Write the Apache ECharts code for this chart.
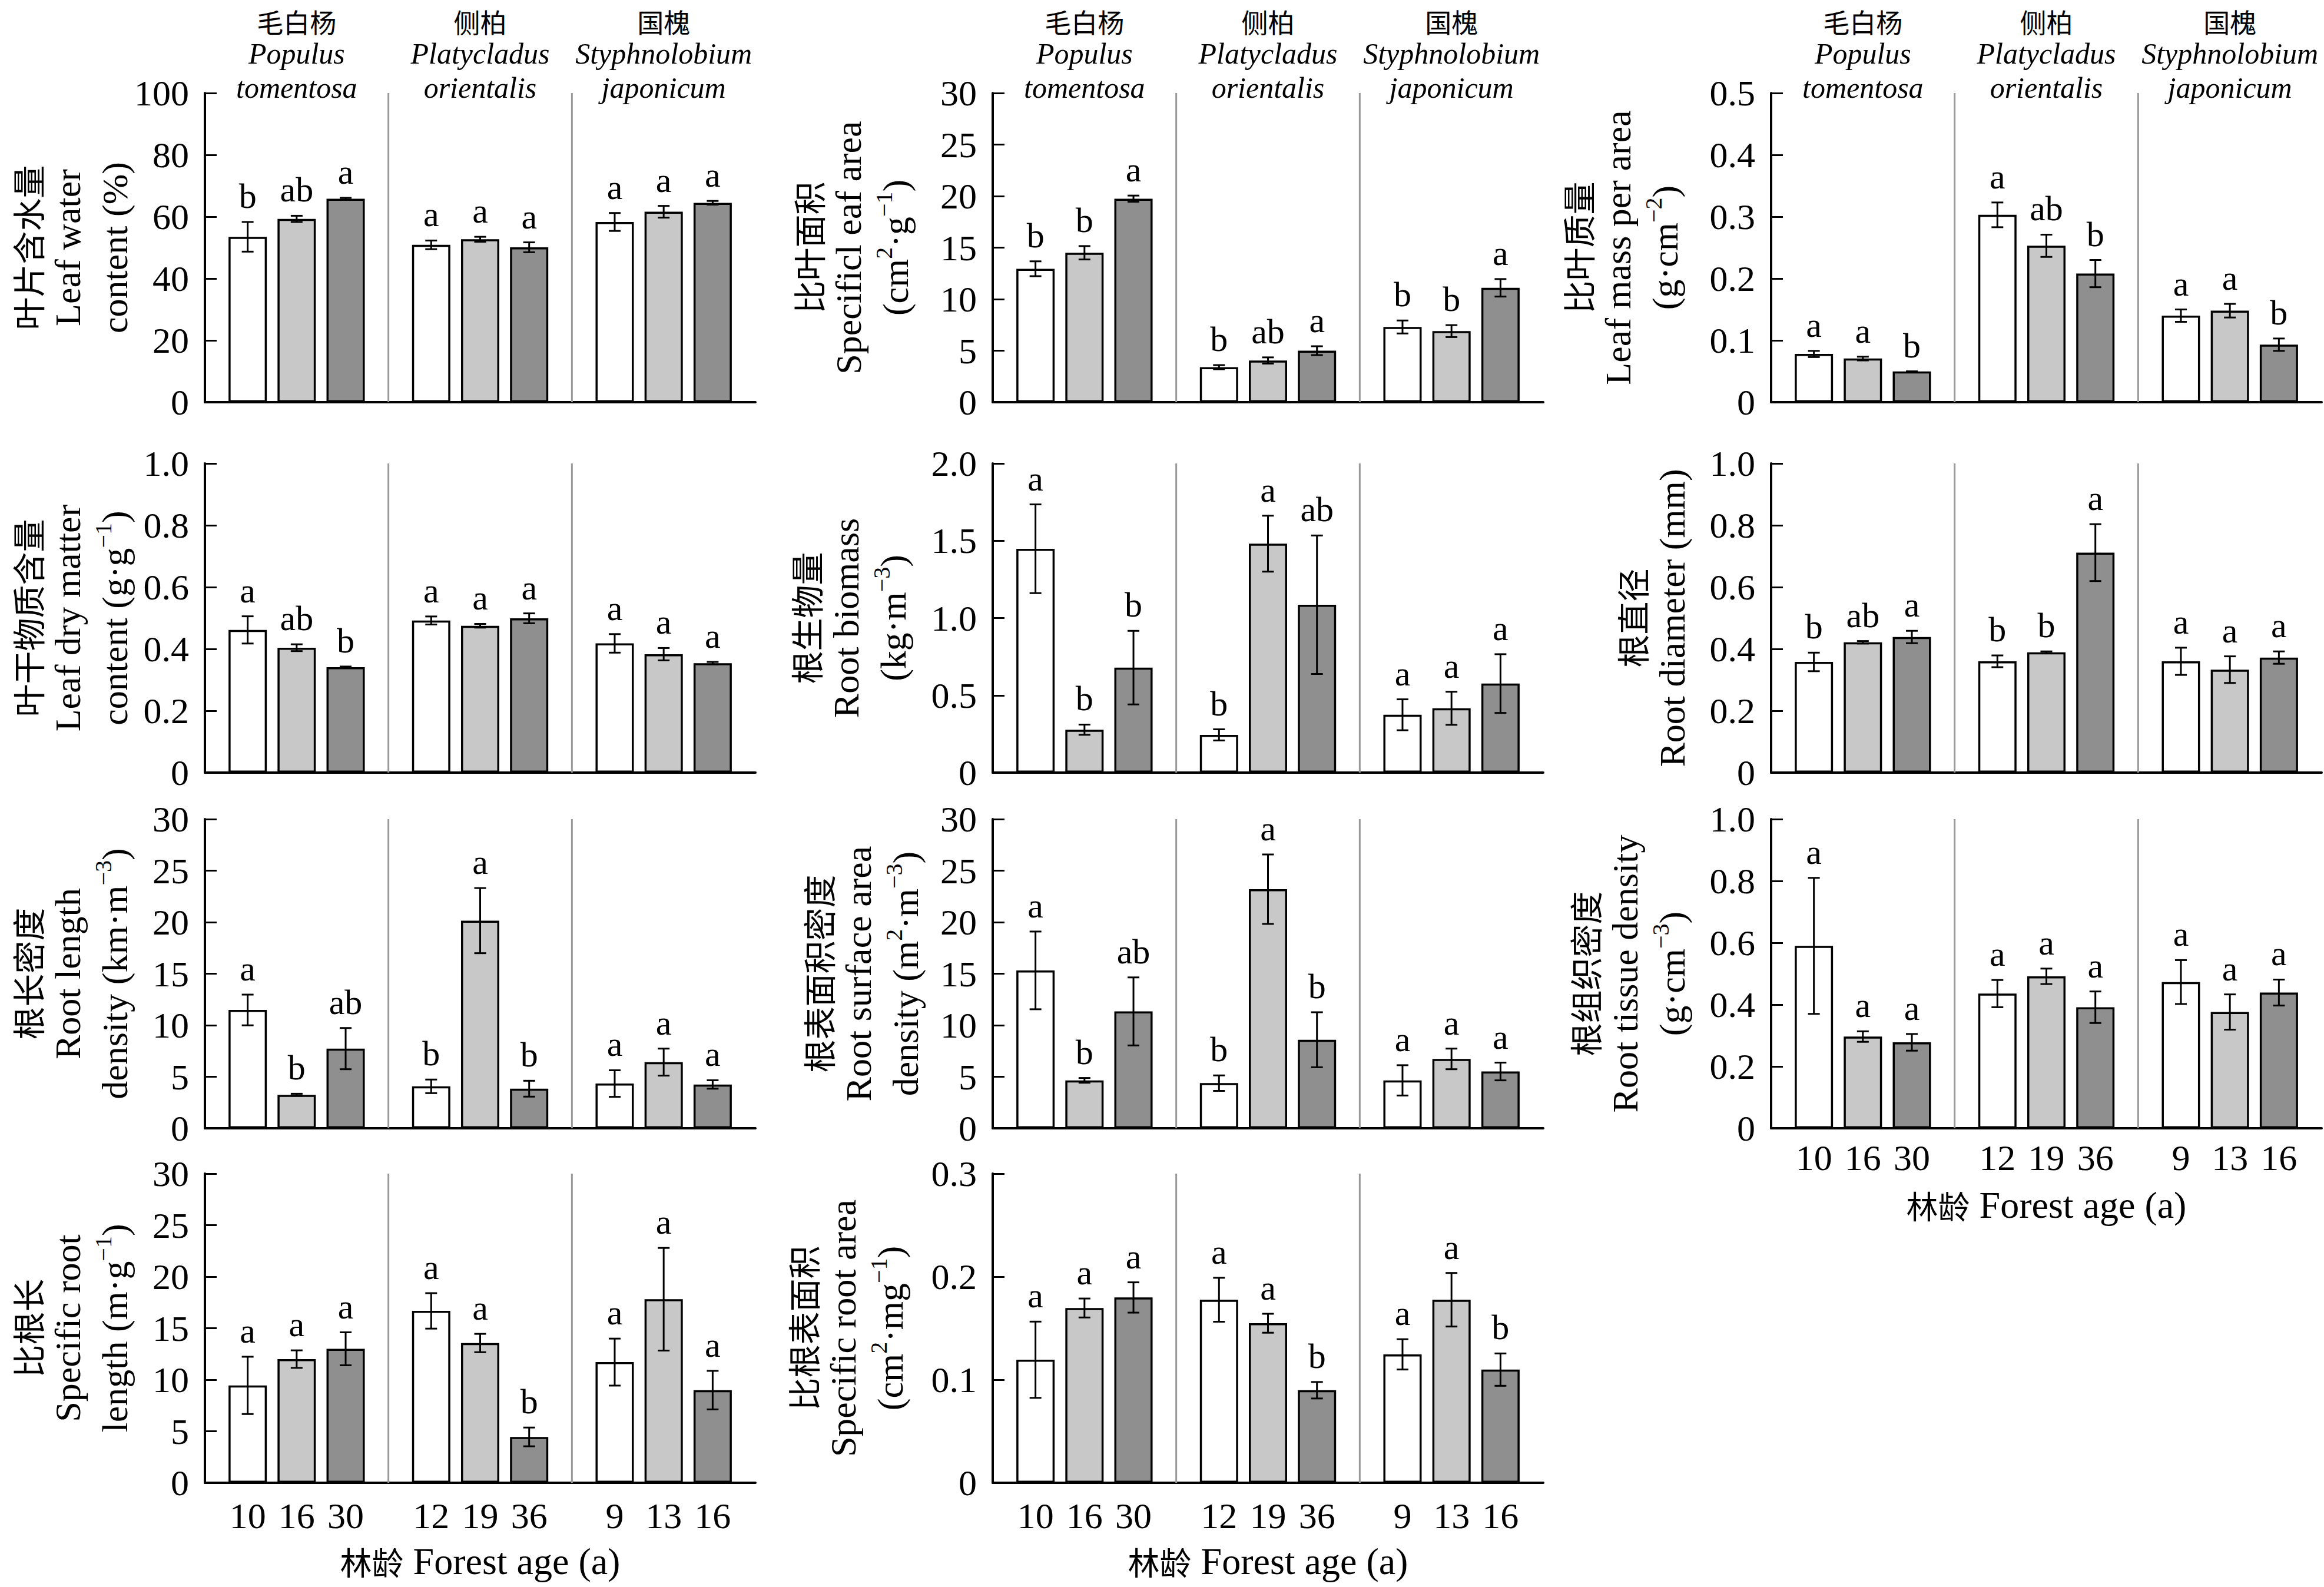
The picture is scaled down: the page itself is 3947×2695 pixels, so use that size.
<!DOCTYPE html>
<html>
<head>
<meta charset="utf-8">
<script src="https://cdn.jsdelivr.net/npm/echarts@6/dist/echarts.min.js"></script>
<style>
html,body{margin:0;padding:0;background:#fff;}
#chart{width:3947px;height:2695px;}
</style>
</head>
<body>
<div id="chart"></div>
<script>
// ---------- categories ----------
const speciesCN = ['毛白杨', '侧柏', '国槐'];
const speciesLatin = [['Populus', 'tomentosa'], ['Platycladus', 'orientalis'], ['Styphnolobium', 'japonicum']];
const forestAges = [['10', '16', '30'], ['12', '19', '36'], ['9', '13', '16']];

// ---------- tick labels ----------
const ticks100 = ['0', '20', '40', '60', '80', '100'];
const ticks30 = ['0', '5', '10', '15', '20', '25', '30'];
const ticks05 = ['0', '0.1', '0.2', '0.3', '0.4', '0.5'];
const ticks10 = ['0', '0.2', '0.4', '0.6', '0.8', '1.0'];
const ticks20 = ['0', '0.5', '1.0', '1.5', '2.0'];
const ticks03 = ['0', '0.1', '0.2', '0.3'];

// ---------- values [species][age] ----------
const leafWaterMean = [[53.5, 59.3, 65.8], [50.9, 52.7, 50.1], [58.3, 61.6, 64.5]];
const leafWaterSE = [[4.8, 1.0, 0.3], [1.4, 0.8, 1.6], [2.9, 1.9, 0.6]];
const leafWaterSig = [['b', 'ab', 'a'], ['a', 'a', 'a'], ['a', 'a', 'a']];

const slaMean = [[12.95, 14.5, 19.75], [3.4, 4.05, 5.0], [7.3, 6.9, 11.1]];
const slaSE = [[0.72, 0.65, 0.3], [0.2, 0.3, 0.43], [0.63, 0.58, 0.85]];
const slaSig = [['b', 'b', 'a'], ['b', 'ab', 'a'], ['b', 'b', 'a']];

const lmaMean = [[0.078, 0.0706, 0.0497], [0.303, 0.253, 0.208], [0.140, 0.148, 0.093]];
const lmaSE = [[0.005, 0.003, 0.0], [0.02, 0.018, 0.022], [0.01, 0.011, 0.01]];
const lmaSig = [['a', 'a', 'b'], ['a', 'ab', 'b'], ['a', 'a', 'b']];

const ldmcMean = [[0.4615, 0.404, 0.341], [0.492, 0.475, 0.499], [0.418, 0.383, 0.354]];
const ldmcSE = [[0.044, 0.011, 0.002], [0.013, 0.006, 0.016], [0.03, 0.02, 0.004]];
const ldmcSig = [['a', 'ab', 'b'], ['a', 'a', 'a'], ['a', 'a', 'a']];

const biomassMean = [[1.448, 0.2775, 0.679], [0.244, 1.481, 1.086], [0.374, 0.416, 0.576]];
const biomassSE = [[0.287, 0.033, 0.238], [0.036, 0.181, 0.448], [0.1, 0.107, 0.19]];
const biomassSig = [['a', 'b', 'b'], ['b', 'a', 'ab'], ['a', 'a', 'a']];

const diameterMean = [[0.358, 0.4215, 0.4386], [0.36, 0.389, 0.7116], [0.36, 0.333, 0.372]];
const diameterSE = [[0.03, 0.004, 0.02], [0.019, 0.003, 0.092], [0.044, 0.043, 0.02]];
const diameterSig = [['b', 'ab', 'a'], ['b', 'b', 'a'], ['a', 'a', 'a']];

const rldMean = [[11.48, 3.25, 7.73], [4.07, 20.15, 3.84], [4.34, 6.42, 4.25]];
const rldSE = [[1.49, 0.1, 2.0], [0.66, 3.16, 0.77], [1.29, 1.31, 0.41]];
const rldSig = [['a', 'b', 'ab'], ['b', 'a', 'b'], ['a', 'a', 'a']];

const rsadMean = [[15.32, 4.65, 11.34], [4.38, 23.2, 8.59], [4.65, 6.73, 5.51]];
const rsadSE = [[3.77, 0.23, 3.3], [0.75, 3.37, 2.67], [1.47, 1.0, 0.86]];
const rsadSig = [['a', 'b', 'ab'], ['b', 'a', 'b'], ['a', 'a', 'a']];

const rtdMean = [[0.59, 0.2966, 0.278], [0.4356, 0.4915, 0.3915], [0.473, 0.376, 0.439]];
const rtdSE = [[0.22, 0.017, 0.027], [0.044, 0.025, 0.051], [0.071, 0.057, 0.042]];
const rtdSig = [['a', 'a', 'a'], ['a', 'a', 'a'], ['a', 'a', 'a']];

const srlMean = [[9.45, 12.0, 13.0], [16.68, 13.56, 4.45], [11.71, 17.81, 8.99]];
const srlSE = [[2.78, 0.85, 1.6], [1.72, 0.89, 0.91], [2.28, 4.98, 1.87]];
const srlSig = [['a', 'a', 'a'], ['a', 'a', 'b'], ['a', 'a', 'a']];

const sraMean = [[0.1194, 0.1696, 0.1798], [0.1776, 0.1548, 0.0898], [0.1246, 0.1776, 0.1098]];
const sraSE = [[0.037, 0.0092, 0.0147], [0.0213, 0.0092, 0.008], [0.0147, 0.026, 0.0157]];
const sraSig = [['a', 'a', 'a'], ['a', 'a', 'b'], ['a', 'a', 'b']];

// ---------- titles ----------
const titles = [
  '{cn|叶片含水量}\n{en|Leaf water}\n{en|content (%)}',
  '{cn|比叶面积}\n{en|Specificl eaf area}\n{en|(cm}{sup|2}{en|·g}{sup|−1}{en|)}',
  '{cn|比叶质量}\n{en|Leaf mass per area}\n{en|(g·cm}{sup|−2}{en|)}',
  '{cn|叶干物质含量}\n{en|Leaf dry matter}\n{en|content (g·g}{sup|−1}{en|)}',
  '{cn|根生物量}\n{en|Root biomass}\n{en|(kg·m}{sup|−3}{en|)}',
  '{cn|根直径}\n{en|Root diameter (mm)}',
  '{cn|根长密度}\n{en|Root length}\n{en|density (km·m}{sup|−3}{en|)}',
  '{cn|根表面积密度}\n{en|Root surface area}\n{en|density (m}{sup|2}{en|·m}{sup|−3}{en|)}',
  '{cn|根组织密度}\n{en|Root tissue density}\n{en|(g·cm}{sup|−3}{en|)}',
  '{cn|比根长}\n{en|Specific root}\n{en|length (m·g}{sup|−1}{en|)}',
  '{cn|比根表面积}\n{en|Specific root area}\n{en|(cm}{sup|2}{en|·mg}{sup|−1}{en|)}'
];
const xTitle = '{cn|林龄}{en|\u00A0Forest age (a)}';

// ---------- panel assembly ----------
const panelData = [
  [leafWaterMean, leafWaterSE, leafWaterSig, ticks100],
  [slaMean, slaSE, slaSig, ticks30],
  [lmaMean, lmaSE, lmaSig, ticks05],
  [ldmcMean, ldmcSE, ldmcSig, ticks10],
  [biomassMean, biomassSE, biomassSig, ticks20],
  [diameterMean, diameterSE, diameterSig, ticks10],
  [rldMean, rldSE, rldSig, ticks30],
  [rsadMean, rsadSE, rsadSig, ticks30],
  [rtdMean, rtdSE, rtdSig, ticks10],
  [srlMean, srlSE, srlSig, ticks30],
  [sraMean, sraSE, sraSig, ticks03]
];

// layout (pixels)
const colLeft = [348, 1686, 3008];
const rowTop = [158, 787, 1391, 1993];
const GRID_W = 935, GRID_H = 525;
const panelLayout = [
  {c: 0, r: 0, gap: 113, species: true},
  {c: 1, r: 0, gap: 125, species: true},
  {c: 2, r: 0, gap: 140, species: true},
  {c: 0, r: 1, gap: 113},
  {c: 1, r: 1, gap: 129},
  {c: 2, r: 1, gap: 128},
  {c: 0, r: 2, gap: 113},
  {c: 1, r: 2, gap: 108},
  {c: 2, r: 2, gap: 128, ages: true, ageGap: 50, titleGap: 95},
  {c: 0, r: 3, gap: 113, ages: true, ageGap: 56, titleGap: 98},
  {c: 1, r: 3, gap: 134, ages: true, ageGap: 56, titleGap: 98}
];

const FILLS = ['#ffffff', '#c8c8c8', '#8f8f8f'];
const BAR_W = 65, BAR_GAP = 0.28;
const PITCH = BAR_W * (1 + BAR_GAP);
const SERIF = '"Liberation Serif", "Times New Roman", serif';
const CJK = '"Noto Sans CJK SC", sans-serif';

const nameRich = {
  cn: {fontFamily: CJK, fontSize: 56, lineHeight: 60, color: '#000'},
  en: {fontFamily: SERIF, fontSize: 62, lineHeight: 80, color: '#000'},
  sup: {fontFamily: SERIF, fontSize: 40, lineHeight: 48, verticalAlign: 'top', color: '#000'}
};

const grids = [], xAxes = [], yAxes = [], series = [];

panelData.forEach((pd, i) => {
  const [mean, se, sig, ticks] = pd;
  const L = panelLayout[i];
  const yMin = parseFloat(ticks[0]);
  const yMax = parseFloat(ticks[ticks.length - 1]);
  const yStep = parseFloat(ticks[1]) - yMin;

  grids.push({left: colLeft[L.c], top: rowTop[L.r], width: GRID_W, height: GRID_H,
    containLabel: false, outerBoundsMode: 'none'});

  const bottomIdx = xAxes.length;
  xAxes.push({
    gridIndex: i, type: 'category', data: speciesCN, position: 'bottom',
    axisLine: {show: true, onZero: false, lineStyle: {color: '#000', width: 4}},
    axisTick: {show: false}, axisLabel: {show: false}, splitLine: {show: false},
    name: L.ages ? xTitle : '', nameLocation: 'middle', nameGap: L.titleGap || 0,
    nameMoveOverlap: false,
    nameTextStyle: {rich: {
      cn: {fontFamily: CJK, fontSize: 54, lineHeight: 70, color: '#000'},
      en: {fontFamily: SERIF, fontSize: 64, lineHeight: 70, color: '#000'}
    }}
  });
  if (L.species) {
    xAxes.push({
      gridIndex: i, type: 'category', data: speciesCN, position: 'top',
      axisLine: {show: false}, axisTick: {show: false}, splitLine: {show: false},
      axisLabel: {
        show: true, interval: 0, margin: -20,
        formatter: (v, idx) => '{cn|' + speciesCN[idx] + '}\n{it|' + speciesLatin[idx][0] + '}\n{it|' + speciesLatin[idx][1] + '}',
        rich: {
          cn: {fontFamily: CJK, fontSize: 45, lineHeight: 52, color: '#000'},
          it: {fontFamily: SERIF, fontStyle: 'italic', fontSize: 50, lineHeight: 58, color: '#000'}
        }
      }
    });
  }

  yAxes.push({
    gridIndex: i, type: 'value', min: yMin, max: yMax, interval: yStep,
    axisLine: {show: true, lineStyle: {color: '#000', width: 4}},
    axisTick: {show: true, inside: true, length: 20, lineStyle: {color: '#000', width: 3}},
    splitLine: {show: false},
    axisLabel: {
      margin: 27, fontSize: 62, fontFamily: SERIF, color: '#000',
      formatter: v => ticks[Math.round((v - yMin) / yStep)]
    },
    name: titles[i], nameLocation: 'middle', nameRotate: 90, nameGap: L.gap,
    nameMoveOverlap: false,
    nameTextStyle: {rich: nameRich}
  });

  for (let k = 0; k < 3; k++) {
    series.push({
      type: 'bar', xAxisIndex: bottomIdx, yAxisIndex: i,
      data: mean.map(g => g[k]),
      barWidth: BAR_W, barGap: (BAR_GAP * 100) + '%',
      itemStyle: {color: FILLS[k], borderColor: '#000', borderWidth: 3.5},
      silent: true, animation: false, z: 2
    });
  }

  const pts = [];
  for (let j = 0; j < 3; j++) for (let k = 0; k < 3; k++) pts.push([j, k]);
  series.push({
    type: 'custom', xAxisIndex: bottomIdx, yAxisIndex: i, data: pts,
    clip: false, silent: true, animation: false, z: 5,
    renderItem: (params, api) => {
      const j = api.value(0), k = api.value(1);
      const m = mean[j][k], s = se[j][k];
      const base = api.coord([j, 0]);
      const x = base[0] + (k - 1) * PITCH;
      const yT = api.coord([j, m + s])[1];
      const yB = api.coord([j, m - s])[1];
      const ls = {stroke: '#000', lineWidth: 3};
      const ch = [
        {type: 'line', shape: {x1: x, y1: yT, x2: x, y2: yB}, style: ls},
        {type: 'line', shape: {x1: x - 10, y1: yT, x2: x + 10, y2: yT}, style: ls},
        {type: 'line', shape: {x1: x - 10, y1: yB, x2: x + 10, y2: yB}, style: ls},
        {type: 'text', x: x, y: yT - 14, style: {text: sig[j][k], font: '60px ' + SERIF, fill: '#000',
          textAlign: 'center', align: 'center', textVerticalAlign: 'bottom', verticalAlign: 'bottom'}}
      ];
      if (L.ages) {
        ch.push({type: 'text', x: x, y: base[1] + L.ageGap, style: {text: forestAges[j][k], font: '62px ' + SERIF,
          fill: '#000', textAlign: 'center', align: 'center', textVerticalAlign: 'middle', verticalAlign: 'middle'}});
      }
      if (k === 0 && j > 0) {
        const band = api.size([1, 0])[0];
        const sx = base[0] - band / 2;
        const cs = params.coordSys;
        ch.push({type: 'line', shape: {x1: sx, y1: cs.y, x2: sx, y2: cs.y + cs.height},
          style: {stroke: '#999', lineWidth: 3}, z2: -1});
      }
      return {type: 'group', children: ch};
    }
  });
});

const chart = echarts.init(document.getElementById('chart'), null, {renderer: 'svg'});
chart.setOption({
  backgroundColor: '#fff',
  animation: false,
  grid: grids,
  xAxis: xAxes,
  yAxis: yAxes,
  series: series
});
</script>
</body>
</html>
